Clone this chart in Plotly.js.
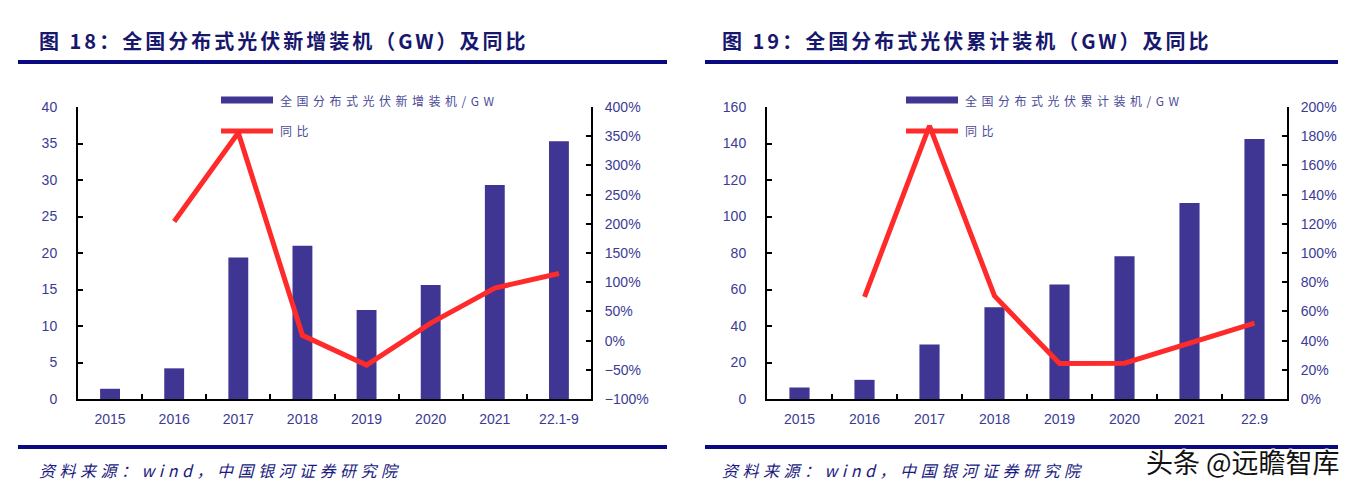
<!DOCTYPE html>
<html>
<head>
<meta charset="utf-8">
<script src="https://cdn.plot.ly/plotly-3.0.1.min.js"></script>
<style>
html,body{margin:0;padding:0;background:#fff;}
#wrap{position:relative;width:1353px;height:493px;overflow:hidden;background:#fff;}
#chartL{position:absolute;left:0;top:0;width:676px;height:493px;z-index:1;}
#chartR{position:absolute;left:676px;top:0;width:677px;height:493px;z-index:1;}
#deco{position:absolute;left:0;top:0;width:1353px;height:493px;z-index:2;pointer-events:none;}
#wm{position:absolute;left:1146px;top:446px;height:32px;line-height:32px;font-family:"Noto Sans CJK SC","Noto Sans",sans-serif;font-size:27px;color:#111;white-space:nowrap;z-index:5;
  text-shadow:1px 1px 0 #fff,-1px -1px 0 #fff,1px -1px 0 #fff,-1px 1px 0 #fff,0 1px 0 #fff,0 -1px 0 #fff,1px 0 0 #fff,-1px 0 0 #fff;}
#deco g.annotation[data-index="0"] text, #deco g.annotation[data-index="1"] text {letter-spacing:3px;}
#deco g.annotation[data-index="2"] text, #deco g.annotation[data-index="3"] text,
#deco g.annotation[data-index="4"] text, #deco g.annotation[data-index="5"] text,
#deco g.annotation[data-index="6"] text, #deco g.annotation[data-index="7"] text {letter-spacing:4.5px;}
</style>
</head>
<body>
<div id="wrap"><div id="chartL"></div><div id="chartR"></div><div id="deco"></div><div id="wm"></div></div>
<script>
// ---- data ----
const catsNew = ['2015', '2016', '2017', '2018', '2019', '2020', '2021', '22.1-9'];
const newInstalled = [1.4, 4.2, 19.4, 21.0, 12.2, 15.6, 29.3, 35.3];
const newYoy = [null, 204, 356, 9, -42, 30, 90, 115];

const catsCum = ['2015', '2016', '2017', '2018', '2019', '2020', '2021', '22.9'];
const cumInstalled = [6.3, 10.5, 29.9, 50.3, 62.8, 78.2, 107.4, 142.4];
const cumYoy = [null, 70, 187, 70.6, 24.3, 24.5, 38, 52];

const titleLeft = '图 18：全国分布式光伏新增装机（GW）及同比';
const titleRight = '图 19：全国分布式光伏累计装机（GW）及同比';
const seriesBarLeft = '全国分布式光伏新增装机/GW';
const seriesBarRight = '全国分布式光伏累计装机/GW';
const seriesLine = '同比';
const sourceText = '资料来源：wind，中国银河证券研究院';
const watermark = '头条 @远瞻智库';

document.getElementById('wm').textContent = watermark;

// ---- style ----
const H = 493;
const barColor = '#3f3593';
const lineColor = '#ff2b2b';
const tickColor = '#3b3b96';
const navy = '#0a0a80';
const titleColor = '#17176e';
const cjk = '"Noto Sans CJK SC", "Noto Sans", sans-serif';
const latin = '"Liberation Sans", Arial, "Noto Sans CJK SC", sans-serif';
const tickFont = {family: latin, size: 14, color: tickColor};
const titleFont = {family: cjk, size: 20, color: titleColor, weight: 'bold'};
const srcFont = {family: cjk, size: 16, color: '#1a1a80', style: 'italic'};
const legFont = {family: cjk, size: 12, color: '#4a4a98'};

// ---- one chart (bars + yoy line) per div ----
function buildChart(divId, W, g) {
  const px = v => v / W;
  const py = v => 1 - v / H;
  const yDom = [py(399), py(107)];
  const traces = [
    {type: 'bar', x: g.cats, y: g.bars, marker: {color: barColor}, name: g.barName},
    {type: 'scatter', mode: 'lines', x: g.cats, y: g.yoy, yaxis: 'y2',
     line: {color: lineColor, width: 5}, name: seriesLine, connectgaps: false}
  ];
  const axBase = {showline: true, linecolor: '#000', linewidth: 2, ticks: 'inside', ticklen: 5,
    tickwidth: 2, tickcolor: '#000', showgrid: false, zeroline: false, tickfont: tickFont, fixedrange: true};
  const layout = {
    width: W, height: H, autosize: false,
    margin: {l: 0, r: 0, t: 0, b: 0, pad: 0},
    showlegend: false, bargap: 0.69,
    xaxis: Object.assign({}, axBase, {domain: [px(g.x0), px(g.x1)], type: 'category',
      tickson: 'boundaries', ticklabelstandoff: 6}),
    yaxis: Object.assign({}, axBase, {domain: yDom, range: g.yRange, dtick: g.yDtick, ticklabelstandoff: 16}),
    yaxis2: Object.assign({}, axBase, {domain: yDom, range: g.y2Range, dtick: g.y2Dtick, overlaying: 'y',
      side: 'right', ticksuffix: '%', ticklabelstandoff: 9})
  };
  return Plotly.newPlot(divId, traces, layout, {staticPlot: true, displayModeBar: false});
}

// ---- titles, rules, legends, sources on a transparent full-width layer ----
function buildDeco() {
  const W = 1353;
  const px = v => v / W;
  const py = v => 1 - v / H;
  const ann = (text, x, y, font) => ({text: text, xref: 'paper', yref: 'paper', x: px(x), y: py(y),
    xanchor: 'left', yanchor: 'middle', align: 'left', showarrow: false, font: font, borderpad: 0});
  const hline = (x0, x1, y, color, w) => ({type: 'line', xref: 'paper', yref: 'paper',
    x0: px(x0), x1: px(x1), y0: py(y), y1: py(y), line: {color: color, width: w}});
  const swatch = x => ({type: 'rect', xref: 'paper', yref: 'paper', x0: px(x), x1: px(x + 52),
    y0: py(103.5), y1: py(96.5), fillcolor: barColor, line: {width: 0}});
  const layout = {
    width: W, height: H, autosize: false,
    margin: {l: 0, r: 0, t: 0, b: 0, pad: 0},
    paper_bgcolor: 'rgba(0,0,0,0)', plot_bgcolor: 'rgba(0,0,0,0)', showlegend: false,
    xaxis: {visible: false, range: [0, 1], fixedrange: true},
    yaxis: {visible: false, range: [0, 1], fixedrange: true},
    shapes: [
      hline(18, 667, 62, navy, 4), hline(705, 1338, 62, navy, 4),
      hline(18, 667, 447, navy, 4), hline(705, 1338, 447, navy, 4),
      swatch(221), hline(221, 273, 131, lineColor, 5),
      swatch(906), hline(906, 958, 131, lineColor, 5)
    ],
    annotations: [
      ann(titleLeft, 38, 40, titleFont),
      ann(titleRight, 721, 40, titleFont),
      ann(sourceText, 38, 470, srcFont),
      ann(sourceText, 721, 470, srcFont),
      ann(seriesBarLeft, 279, 100, legFont),
      ann(seriesLine, 279, 130, legFont),
      ann(seriesBarRight, 964, 100, legFont),
      ann(seriesLine, 964, 130, legFont)
    ]
  };
  return Plotly.newPlot('deco', [], layout, {staticPlot: true, displayModeBar: false});
}

buildChart('chartL', 676, {
  cats: catsNew, bars: newInstalled, yoy: newYoy, barName: seriesBarLeft,
  x0: 78, x1: 591, yRange: [0, 40], yDtick: 5, y2Range: [-100, 400], y2Dtick: 50
}).then(() => buildChart('chartR', 677, {
  // right panel: coordinates relative to its own div (offset 676px)
  cats: catsCum, bars: cumInstalled, yoy: cumYoy, barName: seriesBarRight,
  x0: 91, x1: 611, yRange: [0, 160], yDtick: 20, y2Range: [0, 200], y2Dtick: 20
})).then(() => buildDeco());
</script>
</body>
</html>
